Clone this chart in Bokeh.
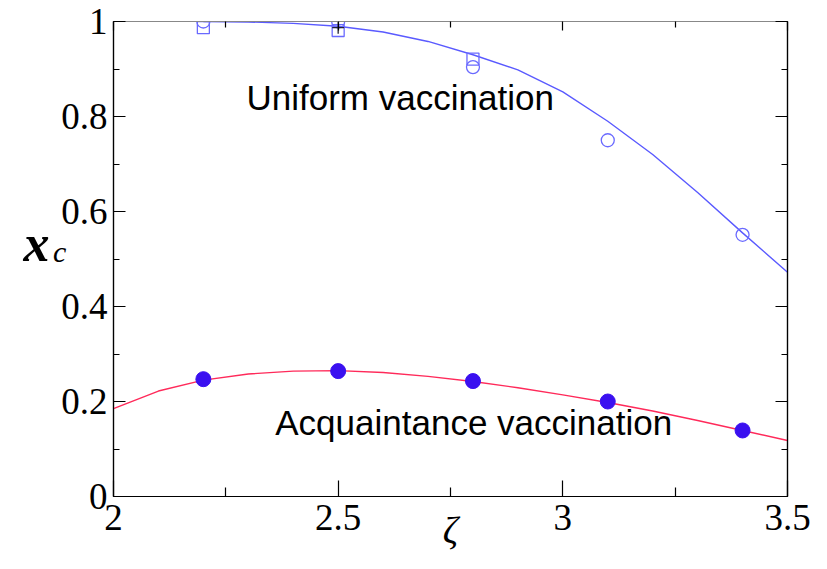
from bokeh.plotting import figure
from bokeh.models import (FixedTicker, LinearAxis, Label, CustomJSTickFormatter, Range1d)
from bokeh.embed import file_html
from bokeh.resources import INLINE

# --- data ---
zeta_uniform_circ = [2.2, 2.5, 2.8, 3.1, 3.4]
xc_uniform_circ = [1.0, 1.0, 0.904, 0.75, 0.551]
zeta_uniform_sq = [2.2, 2.5, 2.8]
xc_uniform_sq = [0.987, 0.981, 0.921]
zeta_uniform_plus = [2.5]
xc_uniform_plus = [0.987]
zeta_uniform_fit = [2.2, 2.3, 2.4, 2.5, 2.6, 2.7, 2.8, 2.9, 3.0, 3.1, 3.2, 3.3, 3.4, 3.5]
xc_uniform_fit = [1.0, 0.999, 0.996, 0.99, 0.978, 0.958, 0.93, 0.898, 0.852, 0.79, 0.72, 0.64, 0.555, 0.472]

zeta_acq = [2.2, 2.5, 2.8, 3.1, 3.4]
xc_acq = [0.247, 0.264, 0.243, 0.2, 0.139]
zeta_acq_fit = [2.0, 2.1, 2.2, 2.3, 2.4, 2.5, 2.6, 2.7, 2.8, 2.9, 3.0, 3.1, 3.2, 3.3, 3.4, 3.5]
xc_acq_fit = [0.185, 0.222, 0.245, 0.258, 0.264, 0.265, 0.261, 0.253, 0.242, 0.229, 0.214, 0.198, 0.18, 0.16, 0.139, 0.118]

x_ticks = [2, 2.5, 3, 3.5]
x_minor = [2.25, 2.75, 3.25]
y_ticks = [0, 0.2, 0.4, 0.6, 0.8, 1]
y_minor = [0.1, 0.3, 0.5, 0.7, 0.9]

p = figure(width=811, height=553, output_backend="svg", toolbar_location=None,
           x_range=Range1d(2, 3.5), y_range=Range1d(0, 1),
           min_border_left=113, min_border_right=24, min_border_top=21, min_border_bottom=55)
p.xgrid.visible = False
p.ygrid.visible = False
p.outline_line_color = "black"
p.outline_line_width = 1.2
p.background_fill_color = "white"
p.border_fill_color = "white"

fmt = CustomJSTickFormatter(code="return tick.toString();")
blank = CustomJSTickFormatter(code="return '';")

def style(ax, ticks, minor, labels, inmaj, inmin):
    ax.ticker = FixedTicker(ticks=ticks, minor_ticks=minor)
    ax.formatter = fmt if labels else blank
    ax.major_tick_in = inmaj
    ax.major_tick_out = 0
    ax.minor_tick_in = inmin
    ax.minor_tick_out = 0
    ax.axis_line_color = "black"
    ax.axis_line_width = 1.2
    ax.major_tick_line_color = "black"
    ax.minor_tick_line_color = "black"
    ax.major_tick_line_width = 1.2
    ax.minor_tick_line_width = 1.2
    ax.major_label_text_font = "Liberation Serif"
    ax.major_label_text_font_size = "37px"
    ax.major_label_text_color = "black"

# bottom axis with ζ title
xa = p.xaxis[0]
style(xa, x_ticks, x_minor, True, 16, 9)
xa.major_label_standoff = 8
xa.axis_label = "ζ"
xa.axis_label_text_font = "Liberation Serif"
xa.axis_label_text_font_style = "italic"
xa.axis_label_text_font_size = "38px"
xa.axis_label_text_color = "black"
xa.axis_label_standoff = -24

# left axis, its title is the subscript "c"
ya = p.yaxis[0]
style(ya, y_ticks, y_minor, True, 12, 6)
ya.major_label_standoff = 6
ya.axis_label = "c\n"
ya.axis_label_orientation = "horizontal"
ya.axis_label_text_font = "Liberation Serif"
ya.axis_label_text_font_style = "italic"
ya.axis_label_text_font_size = "30px"
ya.axis_label_text_color = "black"
ya.axis_label_text_line_height = 0.48
ya.axis_label_standoff = -8

# outer left axis carrying the "x" of x_c
xl = LinearAxis(ticker=FixedTicker(ticks=[]), formatter=blank)
xl.axis_line_color = None
xl.major_tick_line_color = None
xl.minor_tick_line_color = None
xl.major_tick_in = 0
xl.major_tick_out = 0
xl.minor_tick_in = 0
xl.minor_tick_out = 0
xl.major_label_standoff = 0
xl.axis_label = "x\n"
xl.axis_label_orientation = "horizontal"
xl.axis_label_text_font = "Liberation Serif"
xl.axis_label_text_font_style = "bold italic"
xl.axis_label_text_font_size = "52px"
xl.axis_label_text_color = "black"
xl.axis_label_text_line_height = 0.55
xl.axis_label_standoff = 0
p.add_layout(xl, "left")

top = LinearAxis()
style(top, x_ticks, x_minor, False, 9, 6)
top.axis_line_color = "#888888"
right = LinearAxis()
style(right, y_ticks, y_minor, False, 12, 6)
p.add_layout(top, "above")
p.add_layout(right, "right")
top.major_label_standoff = 0
right.major_label_standoff = 0

# curves
p.line(zeta_uniform_fit, xc_uniform_fit, line_color="#5a5aff", line_width=1.4)
p.line(zeta_acq_fit, xc_acq_fit, line_color="#ff2a5a", line_width=1.4)

# uniform markers
p.scatter(zeta_uniform_sq, xc_uniform_sq, marker="square", size=12, fill_color=None,
          line_color="#6a6aff", line_width=1.3)
p.scatter(zeta_uniform_circ, xc_uniform_circ, marker="circle", size=13, fill_color=None,
          line_color="#6a6aff", line_width=1.3)
p.scatter(zeta_uniform_plus, xc_uniform_plus, marker="cross", size=12,
          line_color="#222233", line_width=1.3)

# acquaintance markers
p.scatter(zeta_acq, xc_acq, marker="circle", size=15, fill_color="#3a10f0",
          line_color="#3a10f0")

# text annotations
p.add_layout(Label(x=2.296, y=0.841, text="Uniform vaccination", text_font="Liberation Sans",
                   text_font_size="35px", text_color="black", text_baseline="alphabetic"))
p.add_layout(Label(x=2.36, y=0.155, text="Acquaintance vaccination", text_font="Liberation Sans",
                   text_font_size="35px", text_color="black", text_baseline="alphabetic"))

open("out.html", "w").write(file_html(p, INLINE))
